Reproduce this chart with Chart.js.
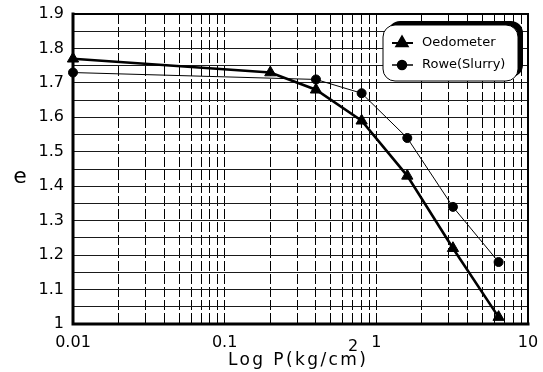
<!DOCTYPE html>
<html>
<head>
<meta charset="utf-8">
<script src="https://cdn.jsdelivr.net/npm/chart.js@4/dist/chart.umd.min.js"></script>
<style>
  html, body { margin: 0; padding: 0; background: #fff; }
  canvas { display: block; }
</style>
</head>
<body>
<canvas id="chart" width="543" height="372"></canvas>
<script>
// Consolidation test results: void ratio e against load P (kg/cm²)
const oedometerPressure = [0.01, 0.2, 0.4, 0.8, 1.6, 3.2, 6.4];
const oedometerVoidRatio = [1.77, 1.73, 1.68, 1.59, 1.43, 1.22, 1.02];
const rowePressure = [0.01, 0.4, 0.8, 1.6, 3.2, 6.4];
const roweVoidRatio = [1.73, 1.71, 1.67, 1.54, 1.34, 1.18];

const seriesNames = ['Oedometer', 'Rowe(Slurry)'];

// Log axis: labelled decades plus 2..9 minor lines in each decade
const xDecades = [0.01, 0.1, 1, 10];
const xDecadeLabels = ['0.01', '0.1', '1', '10'];
const xMinorSteps = [2, 3, 4, 5, 6, 7, 8, 9];

const yMin = 1, yMax = 1.9, yGridStep = 0.05;

const FONT = 'DejaVu Sans';

function buildLogTicks() {
  const vals = [];
  xDecades.forEach((d, i) => {
    vals.push(d);
    if (i < xDecades.length - 1) {
      xMinorSteps.forEach(m => vals.push(+(d * m).toPrecision(6)));
    }
  });
  return vals;
}

const frameAndLabels = {
  id: 'frameAndLabels',
  beforeDatasetsDraw(chart) {
    const { ctx, chartArea: a } = chart;
    ctx.save();
    ctx.strokeStyle = '#000';
    ctx.lineCap = 'square';
    // top and right edges
    ctx.lineWidth = 2;
    ctx.beginPath();
    ctx.moveTo(a.left, a.top);
    ctx.lineTo(a.right, a.top);
    ctx.lineTo(a.right, a.bottom);
    ctx.stroke();
    // heavier left and bottom edges
    ctx.lineWidth = 3;
    ctx.beginPath();
    ctx.moveTo(a.left, a.top);
    ctx.lineTo(a.left, a.bottom);
    ctx.lineTo(a.right, a.bottom);
    ctx.stroke();
    ctx.restore();
  },
  afterDraw(chart) {
    const { ctx } = chart;
    ctx.save();
    ctx.fillStyle = '#000';

    // y-axis title
    ctx.font = '22px "' + FONT + '"';
    ctx.textAlign = 'center';
    ctx.textBaseline = 'alphabetic';
    ctx.fillText('e', 20, 183);

    // x-axis title with raised exponent
    ctx.font = '17px "' + FONT + '"';
    ctx.textAlign = 'left';
    ctx.letterSpacing = '2.4px';
    ctx.fillText('Log P(kg/cm)', 228, 365);
    ctx.letterSpacing = '0px';
    ctx.font = '16px "' + FONT + '"';
    ctx.fillText('2', 348, 351);

    // legend box with offset shadow
    const bx = 383, by = 25, bw = 135, bh = 56, r = 12;
    ctx.beginPath();
    ctx.roundRect(bx + 5, by - 4, bw, bh, r);
    ctx.fillStyle = '#000';
    ctx.fill();
    ctx.beginPath();
    ctx.roundRect(bx, by, bw, bh, r);
    ctx.fillStyle = '#fff';
    ctx.fill();
    ctx.lineWidth = 1;
    ctx.strokeStyle = '#000';
    ctx.stroke();

    const rows = [43, 65];
    chart.data.datasets.forEach((ds, i) => {
      const y = rows[i];
      ctx.strokeStyle = '#000';
      ctx.lineWidth = i === 0 ? 2 : 1.5;
      ctx.beginPath();
      ctx.moveTo(392, y);
      ctx.lineTo(413, y);
      ctx.stroke();
      Chart.helpers.drawPoint(ctx, {
        pointStyle: ds.pointStyle,
        radius: ds.pointRadius,
        borderWidth: 1
      }, 402, y);
      ctx.fillStyle = '#000';
      ctx.fill();
      ctx.font = '13px "' + FONT + '"';
      ctx.textAlign = 'left';
      ctx.textBaseline = 'middle';
      ctx.fillText(ds.label, 422, y);
    });
    ctx.restore();
  }
};

new Chart(document.getElementById('chart'), {
  type: 'line',
  data: {
    datasets: [
      {
        label: seriesNames[0],
        data: oedometerPressure.map((p, i) => ({ x: p, y: oedometerVoidRatio[i] })),
        borderColor: '#000',
        backgroundColor: '#000',
        borderWidth: 2.6,
        pointStyle: 'triangle',
        pointRadius: 6.5,
        pointBorderWidth: 1,
        tension: 0,
        clip: false
      },
      {
        label: seriesNames[1],
        data: rowePressure.map((p, i) => ({ x: p, y: roweVoidRatio[i] })),
        borderColor: '#000',
        backgroundColor: '#000',
        borderWidth: 1,
        pointStyle: 'circle',
        pointRadius: 4.5,
        pointBorderWidth: 1,
        tension: 0,
        clip: false
      }
    ]
  },
  options: {
    responsive: false,
    animation: false,
    devicePixelRatio: 1,
    layout: { padding: { left: 0, right: 15, top: 14, bottom: 0 } },
    plugins: { legend: { display: false }, tooltip: { enabled: false } },
    scales: {
      x: {
        type: 'logarithmic',
        min: 0.01,
        max: 10,
        afterBuildTicks(scale) {
          scale.ticks = buildLogTicks().map(v => ({ value: v }));
        },
        afterFit(scale) {
          scale.height = 48;
          scale.paddingLeft = 0;
          scale.paddingRight = 0;
        },
        ticks: {
          autoSkip: false,
          maxRotation: 0,
          padding: 9,
          color: '#000',
          font: { family: FONT, size: 16 },
          callback(value) {
            const k = xDecades.findIndex(d => Math.abs(d - value) / d < 1e-6);
            return k >= 0 ? xDecadeLabels[k] : '';
          }
        },
        grid: { color: '#000', lineWidth: 1, drawTicks: false },
        border: { display: false, dash: [10, 3] }
      },
      y: {
        type: 'linear',
        min: yMin,
        max: yMax,
        afterFit(scale) {
          scale.width = 73;
          scale.paddingTop = 0;
          scale.paddingBottom = 0;
        },
        ticks: {
          stepSize: yGridStep,
          maxTicksLimit: 40,
          autoSkip: false,
          padding: 9,
          color: '#000',
          font: { family: FONT, size: 16 },
          callback(value) {
            const t = Math.round(value * 100);
            return t % 10 === 0 ? String(t / 100) : '';
          }
        },
        grid: { color: '#1a1a1a', lineWidth: 1, drawTicks: false },
        border: { display: false }
      }
    }
  },
  plugins: [frameAndLabels]
});
</script>
</body>
</html>
